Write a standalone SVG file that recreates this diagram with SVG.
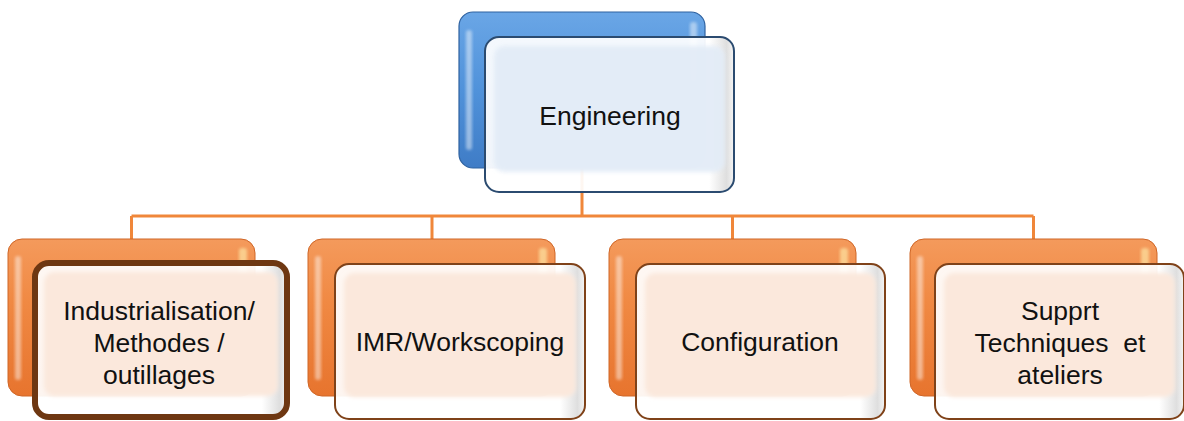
<svg xmlns="http://www.w3.org/2000/svg" width="1184" height="421" viewBox="0 0 1184 421">
  <defs>
    <linearGradient id="blueBack" x1="0" y1="0" x2="0" y2="1">
      <stop offset="0" stop-color="#6aa6e6"/>
      <stop offset="0.5" stop-color="#5092da"/>
      <stop offset="1" stop-color="#3f7cc6"/>
    </linearGradient>
    <linearGradient id="orangeBack" x1="0" y1="0" x2="0" y2="1">
      <stop offset="0" stop-color="#f49a5c"/>
      <stop offset="0.4" stop-color="#f08943"/>
      <stop offset="1" stop-color="#e7742e"/>
    </linearGradient>
    <linearGradient id="edgeShade" x1="0" y1="0" x2="1" y2="0">
      <stop offset="0" stop-color="#ffffff"/>
      <stop offset="0.9" stop-color="#ffffff"/>
      <stop offset="0.97" stop-color="#dcdcdc"/>
      <stop offset="1" stop-color="#f4f4f4"/>
    </linearGradient>
    <filter id="soft" x="-10%" y="-10%" width="120%" height="120%">
      <feGaussianBlur stdDeviation="2"/>
    </filter>
    <filter id="softer" x="-20%" y="-20%" width="140%" height="140%">
      <feGaussianBlur stdDeviation="1.5"/>
    </filter>
  </defs>
  <style>
    .lbl { font-family: "Liberation Sans", Arial, sans-serif; font-size: 26.5px; fill: #111; text-anchor: middle; }
    .wire { fill: none; stroke: #f0873a; stroke-width: 3; }
    .backO { fill: url(#orangeBack); stroke: #cf6627; stroke-width: 1; }
    .backB { fill: url(#blueBack); stroke: #2f62a0; stroke-width: 1.2; }
    .hl { fill: #ffffff; opacity: 0.45; filter: url(#softer); }
    .hlY { fill: #fff2b0; opacity: 0.6; filter: url(#softer); }
    .frame { fill: url(#edgeShade); opacity: 0.93; }
    .panelO { fill: #fbe8dc; filter: url(#soft); }
    .panelB { fill: #e3ecf7; filter: url(#soft); }
    .rimO { fill: none; stroke: #7f4219; stroke-width: 2; }
    .rimSel { fill: none; stroke: #6e3712; stroke-width: 6; }
    .rimB { fill: none; stroke: #2b4b70; stroke-width: 2; }
  </style>

  <!-- connectors -->
  <g id="connectors">
    <path class="wire" d="M582 168 V216 M131.5 216 H1033.5 M131.5 216 V239 M432 216 V239 M732.5 216 V239 M1033.5 216 V239"/>
  </g>

  <!-- top node -->
  <g id="node-engineering">
    <rect class="backB" x="459" y="12" width="246" height="156" rx="14"/>
    <rect class="hl" x="466" y="30" width="6" height="120" rx="3"/>
    <rect class="hl" x="690" y="22" width="7" height="60" rx="3"/>
    <rect class="frame" x="485" y="37" width="249" height="155" rx="14"/>
    <rect class="panelB" x="494" y="46" width="231" height="126" rx="10" opacity="0.95"/>
    <rect class="rimB" x="485" y="37" width="249" height="155" rx="14"/>
    <text class="lbl" x="610" y="125">Engineering</text>
  </g>

  <!-- child nodes -->
  <g id="node-industrialisation">
    <rect class="backO" x="8" y="239" width="247" height="157" rx="14"/>
    <rect class="hl" x="15" y="256" width="6" height="124" rx="3"/>
    <rect class="hlY" x="239" y="248" width="8" height="50" rx="3"/>
    <rect class="frame" x="35" y="263" width="252" height="154" rx="14"/>
    <rect class="panelO" x="44" y="272" width="234" height="124" rx="10"/>
    <rect class="rimSel" x="35" y="263" width="252" height="154" rx="14"/>
    <text class="lbl" x="159" y="320">Industrialisation/</text>
    <text class="lbl" x="159" y="352">Methodes /</text>
    <text class="lbl" x="159" y="384">outillages</text>
  </g>

  <g id="node-imr">
    <rect class="backO" x="308" y="239" width="247" height="157" rx="14"/>
    <rect class="hl" x="315" y="256" width="6" height="124" rx="3"/>
    <rect class="hlY" x="539" y="248" width="8" height="50" rx="3"/>
    <rect class="frame" x="335" y="264" width="250" height="155" rx="14"/>
    <rect class="panelO" x="344" y="273" width="232" height="124" rx="10"/>
    <rect class="rimO" x="335" y="264" width="250" height="155" rx="14"/>
    <text class="lbl" x="460" y="351">IMR/Workscoping</text>
  </g>

  <g id="node-configuration">
    <rect class="backO" x="609" y="239" width="247" height="157" rx="14"/>
    <rect class="hl" x="616" y="256" width="6" height="124" rx="3"/>
    <rect class="hlY" x="840" y="248" width="8" height="50" rx="3"/>
    <rect class="frame" x="636" y="264" width="249" height="155" rx="14"/>
    <rect class="panelO" x="645" y="273" width="231" height="124" rx="10"/>
    <rect class="rimO" x="636" y="264" width="249" height="155" rx="14"/>
    <text class="lbl" x="760" y="351">Configuration</text>
  </g>

  <g id="node-support">
    <rect class="backO" x="910" y="239" width="247" height="157" rx="14"/>
    <rect class="hl" x="917" y="256" width="6" height="124" rx="3"/>
    <rect class="hlY" x="1141" y="248" width="8" height="50" rx="3"/>
    <rect class="frame" x="935" y="264" width="249" height="155" rx="14"/>
    <rect class="panelO" x="944" y="273" width="231" height="124" rx="10"/>
    <rect class="rimO" x="935" y="264" width="249" height="155" rx="14"/>
    <text class="lbl" xml:space="preserve" x="1060" y="320">Supprt</text>
    <text class="lbl" xml:space="preserve" x="1060" y="352">Techniques  et</text>
    <text class="lbl" xml:space="preserve" x="1060" y="384">ateliers</text>
  </g>
</svg>
